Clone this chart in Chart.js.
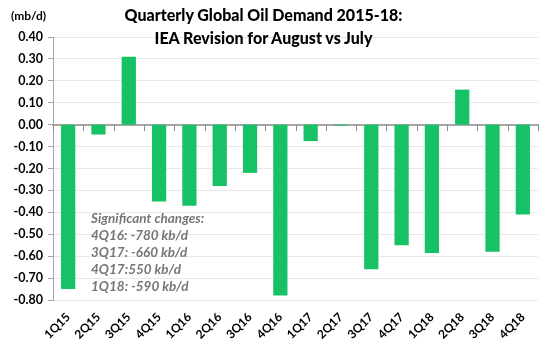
<!DOCTYPE html>
<html>
<head>
<meta charset="utf-8">
<script src="https://cdn.jsdelivr.net/npm/chart.js@4/dist/chart.umd.min.js"></script>
<style>
    body { margin: 0; background: #fff; }
    #wrap { position: relative; width: 557px; height: 350px; font-family: Lato, "Open Sans", sans-serif; }
    .title { position: absolute; left: 0; width: 527px; text-align: center; font-weight: 900; font-size: 16px; color: #000; }
    .unit { position: absolute; left: 11px; top: 8px; font-weight: bold; font-size: 12px; }
    .note { position: absolute; left: 91px; top: 210px; font-style: italic; font-weight: bold; font-size: 13.5px; line-height: 17px; color: #767676; }
</style>
</head>
<body>
<div id="wrap">
    <canvas id="chart" width="557" height="350"></canvas>
    <div class="unit">(mb/d)</div>
    <div class="title" style="top:5px">Quarterly Global Oil Demand 2015-18:</div>
    <div class="title" style="top:28px">IEA Revision for August vs July</div>
    <div class="note">Significant changes:<br>4Q16: -780 kb/d<br>3Q17: -660 kb/d<br>4Q17:550 kb/d<br>1Q18: -590 kb/d</div>
</div>
<script>
// Data
const quarters = ['1Q15', '2Q15', '3Q15', '4Q15', '1Q16', '2Q16', '3Q16', '4Q16',
    '1Q17', '2Q17', '3Q17', '4Q17', '1Q18', '2Q18', '3Q18', '4Q18'];
const revision = [-0.75, -0.045, 0.31, -0.35, -0.37, -0.28, -0.22, -0.78,
    -0.075, -0.004, -0.66, -0.55, -0.585, 0.16, -0.58, -0.41];
const yMin = -0.8;
const yMax = 0.4;
const yStep = 0.1;

const axisGrey = '#a6a6a6';

// tick marks under the zero line, between quarters
const zeroTicks = {
    id: 'zeroTicks',
    afterDatasetsDraw(chart) {
        const x = chart.scales.x, y = chart.scales.y, ctx = chart.ctx;
        const y0 = Math.round(y.getPixelForValue(0));
        const step = x.width / quarters.length;
        ctx.save();
        ctx.strokeStyle = '#8c8c8c';
        ctx.lineWidth = 1;
        ctx.beginPath();
        for (let i = 0; i <= quarters.length; i++) {
            const px = Math.round(x.left + step * i) + 0.5;
            ctx.moveTo(px, y0);
            ctx.lineTo(px, y0 + 6);
        }
        ctx.stroke();
        ctx.restore();
    }
};

new Chart(document.getElementById('chart'), {
    type: 'bar',
    data: {
        labels: quarters,
        datasets: [{
            data: revision,
            backgroundColor: '#17c266',
            borderWidth: 0,
            barPercentage: 0.47,
            categoryPercentage: 1.0,
            xAxisID: 'x'
        }]
    },
    options: {
        responsive: false,
        animation: false,
        layout: { padding: { top: 37, right: 19, left: 0, bottom: 0 } },
        plugins: { legend: { display: false }, title: { display: false }, tooltip: { enabled: false } },
        scales: {
            x: {
                position: 'bottom',
                grid: { display: false },
                border: { display: false },
                ticks: {
                    maxRotation: 45, minRotation: 45, autoSkip: false, padding: 2,
                    color: '#000', font: { family: 'Lato', weight: 'bold', size: 12 }
                },
                afterFit: s => { s.height = 50; }
            },
            // zero line
            x2: {
                type: 'category',
                labels: quarters,
                position: { y: 0 },
                grid: { display: false },
                border: { display: true, color: axisGrey, width: 2 },
                ticks: { display: false }
            },
            y: {
                min: yMin, max: yMax,
                grid: { color: '#e8e8e8', tickColor: axisGrey, tickLength: 5 },
                border: { color: axisGrey, width: 1 },
                ticks: {
                    stepSize: yStep, padding: 5, color: '#000',
                    font: { family: 'Lato', weight: 'bold', size: 12.5 },
                    callback: v => v.toFixed(2)
                },
                afterFit: s => { s.width = 53; }
            }
        }
    },
    plugins: [zeroTicks]
});
</script>
</body>
</html>
